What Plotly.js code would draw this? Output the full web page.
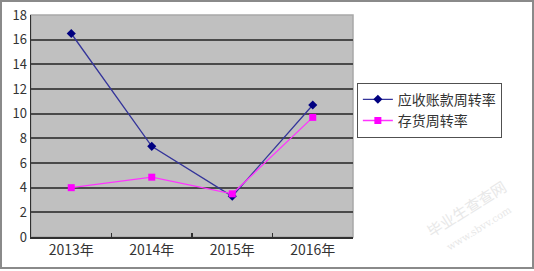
<!DOCTYPE html>
<html>
<head>
<meta charset="utf-8">
<script src="https://cdn.plot.ly/plotly-3.0.1.min.js"></script>
<style>
  html, body { margin: 0; padding: 0; background: #fff; }
  #wrap { position: relative; width: 534px; height: 271px; }
  #chart { width: 534px; height: 271px; }
  #frame { position: absolute; left: 0; top: 0; width: 530px; height: 265px;
           border: 2px solid #8a8a8a; pointer-events: none; }
</style>
</head>
<body>
<div id="wrap">
  <div id="chart"></div>
  <div id="frame"></div>
</div>
<script>
const years = ["2013年", "2014年", "2015年", "2016年"];
const receivableName = "应收账款周转率";
const receivableTurnover = [16.5, 7.35, 3.3, 10.7];
const inventoryName = "存货周转率";
const inventoryTurnover = [4.0, 4.85, 3.5, 9.7];
const yTicks = [0, 2, 4, 6, 8, 10, 12, 14, 16, 18];

const font = "'Noto Sans CJK SC', 'DejaVu Sans', sans-serif";

const traces = [
  {
    x: years, y: receivableTurnover, name: receivableName,
    type: "scatter", mode: "lines+markers",
    line: { color: "#34349a", width: 1.3 },
    marker: { symbol: "diamond", color: "#000080", size: 7 }
  },
  {
    x: years, y: inventoryTurnover, name: inventoryName,
    type: "scatter", mode: "lines+markers",
    line: { color: "#ff33ff", width: 1.3 },
    marker: { symbol: "square", color: "#ff00ff", size: 7 }
  }
];

const layout = {
  width: 534, height: 271,
  margin: { l: 31, r: 181, t: 15, b: 34, pad: 0 },
  paper_bgcolor: "#ffffff",
  plot_bgcolor: "#c0c0c0",
  showlegend: true,
  font: { family: font, color: "#222", size: 13 },
  xaxis: {
    type: "category", categoryarray: years,
    range: [-0.5, 3.5],
    showgrid: false, zeroline: false,
    showline: true, linecolor: "#303030", linewidth: 1.5,
    ticks: "inside", tickson: "boundaries", ticklen: 4, tickcolor: "#303030", tickwidth: 1.5,
    tickfont: { family: font, size: 14, color: "#333" },
    fixedrange: true
  },
  yaxis: {
    range: [0, 18], tickvals: yTicks, ticktext: yTicks.map(String),
    showgrid: true, gridcolor: "#4a4a4a", gridwidth: 2,
    zeroline: false,
    showline: true, linecolor: "#303030", linewidth: 1.5,
    ticks: "", ticklen: 0,
    tickfont: { family: font, size: 13, color: "#333" },
    fixedrange: true
  },
  legend: {
    x: 1.012, y: 0.695, xanchor: "left", yanchor: "top",
    bgcolor: "#ffffff", bordercolor: "#505050", borderwidth: 1,
    font: { family: font, size: 14, color: "#333" },
    tracegroupgap: 0, itemwidth: 30
  },
  shapes: [
    { type: "rect", xref: "paper", yref: "paper", x0: 0, x1: 1, y0: 0, y1: 1,
      layer: "between", line: { color: "#a8a8a8", width: 1.5 }, fillcolor: "rgba(0,0,0,0)" }
  ],
  annotations: [
    { text: "毕业生查查网", xref: "paper", yref: "paper", x: 1.35, y: 0.13,
      xanchor: "center", yanchor: "middle",
      showarrow: false, textangle: -32, font: { family: font, size: 15, color: "#e8e8e8" } },
    { text: "www.sbvv.com", xref: "paper", yref: "paper", x: 1.39, y: 0.04,
      xanchor: "center", yanchor: "middle",
      showarrow: false, textangle: -32, font: { family: "DejaVu Serif", size: 10, color: "#e8e8e8" } }
  ]
};

Plotly.newPlot("chart", traces, layout, { displayModeBar: false, staticPlot: true });
</script>
</body>
</html>
